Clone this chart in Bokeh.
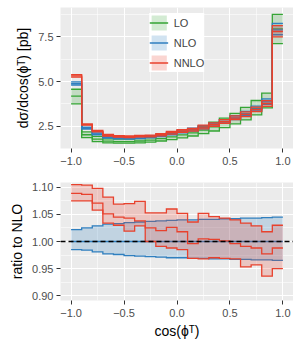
from bokeh.plotting import figure
from bokeh.layouts import column
from bokeh.models import (Range1d, FixedTicker, CustomJSTickFormatter, PrintfTickFormatter,
                          Span, Legend, LegendItem)
from bokeh.embed import file_html
from bokeh.resources import INLINE

# ---------------- data ----------------
edges = [-1.0, -0.9, -0.8, -0.7, -0.6, -0.5, -0.4, -0.3, -0.2, -0.1, 0.0,
         0.1, 0.2, 0.3, 0.4, 0.5, 0.6, 0.7, 0.8, 0.9, 1.0]

lo_c  = [4.18, 2.02, 1.78, 1.66, 1.64, 1.64, 1.67, 1.72, 1.80, 1.90,
         2.01, 2.13, 2.28, 2.46, 2.66, 2.90, 3.17, 3.50, 3.93, 7.95]
lo_up = [4.57, 2.18, 1.93, 1.79, 1.77, 1.77, 1.80, 1.86, 1.95, 2.07,
         2.20, 2.34, 2.51, 2.72, 2.95, 3.22, 3.55, 3.94, 4.35, 8.77]
lo_dn = [3.75, 1.86, 1.64, 1.56, 1.55, 1.55, 1.57, 1.61, 1.67, 1.75,
         1.85, 1.95, 2.08, 2.23, 2.42, 2.63, 2.85, 3.13, 3.53, 7.13]

nlo_c = [4.88, 2.38, 2.06, 1.88, 1.84, 1.83, 1.85, 1.90, 1.98, 2.08,
         2.19, 2.30, 2.43, 2.57, 2.75, 2.96, 3.19, 3.47, 3.86, 7.90]
# NLO scale band, as ratio to NLO
nlo_rup = [1.022, 1.025, 1.029, 1.032, 1.033, 1.035, 1.036, 1.037, 1.038, 1.039,
           1.040, 1.040, 1.041, 1.041, 1.042, 1.042, 1.043, 1.043, 1.044, 1.045]
nlo_rdn = [0.985, 0.984, 0.981, 0.977, 0.976, 0.974, 0.973, 0.972, 0.971, 0.970,
           0.970, 0.969, 0.969, 0.968, 0.968, 0.967, 0.967, 0.966, 0.966, 0.965]
# NNLO as ratio to NLO
nnlo_rup = [1.105, 1.104, 1.098, 1.082, 1.069, 1.070, 1.074, 1.053, 1.053, 1.060,
            1.052, 1.036, 1.052, 1.046, 1.043, 1.040, 1.034, 1.029, 1.018, 1.030]
nnlo_rc  = [1.089, 1.087, 1.071, 1.051, 1.045, 1.043, 1.038, 1.025, 1.020, 1.026,
            1.018, 0.996, 1.005, 1.004, 1.001, 0.996, 0.991, 0.988, 0.977, 0.988]
nnlo_rdn = [1.075, 1.075, 1.058, 1.034, 1.030, 1.019, 1.029, 1.000, 0.991, 0.988,
            0.985, 0.969, 0.968, 0.970, 0.969, 0.968, 0.953, 0.957, 0.936, 0.950]

series_names = ["LO", "NLO", "NNLO"]
colors = {"LO": "#35a535", "NLO": "#2f7fbf", "NNLO": "#e8412d"}

FONT = "Liberation Sans"

# derived absolute values
nlo_up = [c * r for c, r in zip(nlo_c, nlo_rup)]
nlo_dn = [c * r for c, r in zip(nlo_c, nlo_rdn)]
nnlo_c = [c * r for c, r in zip(nlo_c, nnlo_rc)]
nnlo_up = [c * r for c, r in zip(nlo_c, nnlo_rup)]
nnlo_dn = [c * r for c, r in zip(nlo_c, nnlo_rdn)]
nlo_r1 = [c / c for c in nlo_c]


def stepify(vals):
    xs, ys = [], []
    for i, v in enumerate(vals):
        xs += [edges[i], edges[i + 1]]
        ys += [v, v]
    return xs, ys


def make_fig(frame_h, yr, min_top, min_bottom):
    p = figure(frame_width=233, frame_height=frame_h,
               x_range=Range1d(-1.1, 1.1), y_range=Range1d(*yr),
               output_backend="svg", toolbar_location=None,
               min_border_left=60, min_border_right=0, min_border_top=min_top,
               min_border_bottom=min_bottom)
    p.background_fill_color = "#EBEBEB"
    p.border_fill_color = "white"
    p.outline_line_color = None
    p.xaxis.ticker = FixedTicker(ticks=[-1.0, -0.5, 0.0, 0.5, 1.0],
                                 minor_ticks=[-0.75, -0.25, 0.25, 0.75])
    p.xaxis.formatter = CustomJSTickFormatter(
        code='return (tick < 0 ? "\\u2212" : "") + Math.abs(tick).toFixed(1);')
    for g in (p.xgrid, p.ygrid):
        g.grid_line_color = "white"
        g.grid_line_width = 1.1
        g.minor_grid_line_color = "white"
        g.minor_grid_line_width = 0.55
    for ax in (p.xaxis, p.yaxis):
        ax.axis_line_color = None
        ax.major_tick_line_color = "#333333"
        ax.major_tick_out = 4
        ax.major_tick_in = 0
        ax.minor_tick_line_color = None
        ax.major_label_text_font = FONT
        ax.major_label_text_font_size = "11px"
        ax.major_label_text_color = "#4D4D4D"
        ax.major_label_standoff = 3
        ax.axis_label_text_font = FONT
        ax.axis_label_text_font_size = "14px"
        ax.axis_label_text_font_style = "normal"
        ax.axis_label_text_color = "black"
        ax.axis_label_standoff = 4
    p.xaxis.major_label_standoff = 4
    return p


def draw_band(p, c, up, dn, color, lw=1.3):
    xs, yu = stepify(up)
    _, yd = stepify(dn)
    _, yc = stepify(c)
    band = p.varea(x=xs, y1=yd, y2=yu, fill_color=color, fill_alpha=0.22)
    lines = []
    for ys in (yu, yd, yc):
        lines.append(p.line(x=xs, y=ys, line_color=color, line_width=lw, line_join="miter"))
    return band, lines[2]


# ---------------- top panel ----------------
p1 = make_fig(141, (1.25, 9.15), 7, 34)
p1.yaxis.ticker = FixedTicker(ticks=[2.5, 5.0, 7.5], minor_ticks=[1.25, 3.75, 6.25, 8.75])
p1.yaxis.formatter = PrintfTickFormatter(format="%.1f")
p1.yaxis.axis_label = "dσ/dcos(ϕᵀ) [pb]"

rends = {}
rends["LO"] = draw_band(p1, lo_c, lo_up, lo_dn, colors["LO"])
rends["NLO"] = draw_band(p1, nlo_c, nlo_up, nlo_dn, colors["NLO"])
rends["NNLO"] = draw_band(p1, nnlo_c, nnlo_up, nnlo_dn, colors["NNLO"])

items = [LegendItem(label=name, renderers=list(rends[name])) for name in series_names]
legend = Legend(items=items, location="top_center", padding=8, spacing=1, margin=6,
                glyph_width=19, glyph_height=19, label_height=19, label_standoff=6,
                label_text_font=FONT, label_text_font_size="11px",
                background_fill_color="white", background_fill_alpha=1.0,
                border_line_color=None)
p1.add_layout(legend)

# ---------------- ratio panel ----------------
p2 = make_fig(118, (0.891, 1.109), 0, 42)
p2.yaxis.ticker = FixedTicker(ticks=[0.90, 0.95, 1.00, 1.05, 1.10],
                              minor_ticks=[0.925, 0.975, 1.025, 1.075])
p2.yaxis.formatter = PrintfTickFormatter(format="%.2f")
p2.yaxis.axis_label = "ratio to NLO"
p2.xaxis.axis_label = "cos(ϕᵀ)"
p2.xaxis.axis_label_standoff = 3

draw_band(p2, nlo_r1, nlo_rup, nlo_rdn, colors["NLO"])
draw_band(p2, nnlo_rc, nnlo_rup, nnlo_rdn, colors["NNLO"])
p2.add_layout(Span(location=1.0, dimension="width", line_color="black",
                   line_dash="5 3", line_width=1.4))

layout = column(p1, p2)
open("out.html", "w").write(file_html(layout, INLINE))
